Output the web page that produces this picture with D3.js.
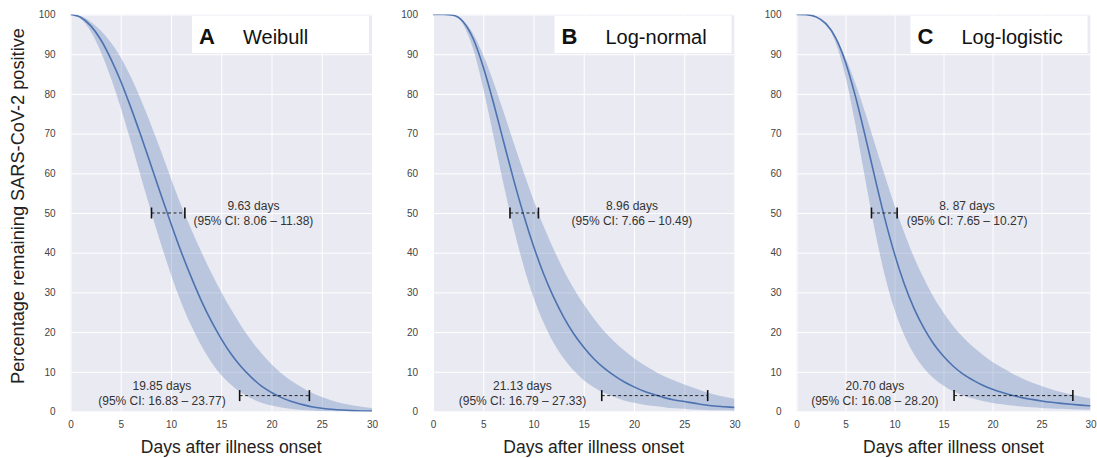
<!DOCTYPE html>
<html>
<head>
<meta charset="utf-8">
<script src="https://cdn.jsdelivr.net/npm/d3@7"></script>
<style>
  body { margin: 0; background: #fff; }
  svg { display: block; font-family: "Liberation Sans", Arial, sans-serif; }
</style>
</head>
<body>
<script>
// days after onset at which the curves were read
var days = [0, 1, 2, 3, 4, 5, 6, 7, 8, 9, 10, 11, 12, 13, 14, 15, 16, 17, 18, 19, 20, 21, 22, 23, 24, 25, 26, 27, 28, 29, 30];

// A - Weibull
var weibullMid  = [100, 99.3, 97.2, 93.7, 88.9, 83.2, 76.6, 69.5, 62.1, 54.6, 47.3, 40.3, 33.9, 28.0, 22.8, 18.3, 14.4, 11.2, 8.6, 6.4, 4.8, 3.5, 2.5, 1.8, 1.2, 0.8, 0.55, 0.36, 0.23, 0.14, 0.09];
var weibullLow  = [100, 98.9, 95.8, 90.7, 84.2, 76.5, 68.0, 59.2, 50.5, 42.2, 34.5, 27.6, 21.7, 16.7, 12.5, 9.2, 6.7, 4.7, 3.3, 2.2, 1.5, 1.0, 0.6, 0.4, 0.23, 0.14, 0.09, 0.05, 0.03, 0.02, 0.01];
var weibullHigh = [100, 99.6, 98.2, 96.0, 93.0, 89.2, 84.3, 78.6, 72.3, 65.6, 58.7, 52.0, 46.0, 40.3, 35.0, 30.1, 25.6, 21.5, 17.8, 14.7, 11.9, 9.6, 7.7, 6.1, 4.7, 3.65, 2.8, 2.1, 1.6, 1.2, 0.9];

// B - Log-normal
var lognormMid  = [100, 100, 99.8, 98.2, 93.9, 86.8, 77.9, 68.2, 58.6, 49.7, 41.7, 34.7, 28.8, 23.8, 19.6, 16.2, 13.3, 11.0, 9.1, 7.5, 6.2, 5.1, 4.3, 3.5, 2.9, 2.5, 2.1, 1.7, 1.4, 1.2, 1.0];
var lognormLow  = [100, 100, 99.8, 97.5, 91.3, 81.4, 69.6, 57.5, 46.4, 36.8, 28.8, 22.4, 17.3, 13.4, 10.3, 7.9, 6.1, 4.7, 3.7, 2.8, 2.2, 1.7, 1.4, 1.1, 0.8, 0.7, 0.5, 0.4, 0.3, 0.3, 0.2];
var lognormHigh = [100, 100, 99.8, 98.4, 95.1, 89.8, 83.1, 75.6, 67.9, 60.4, 53.3, 46.7, 40.9, 35.6, 31.0, 27.0, 23.4, 20.3, 17.7, 15.4, 13.4, 11.7, 10.2, 8.9, 7.8, 6.8, 5.9, 5.0, 4.3, 3.7, 3.2];

// C - Log-logistic
var loglogMid  = [100, 99.95, 99.4, 97.7, 94.1, 88.0, 79.5, 69.5, 58.9, 48.7, 39.7, 32.1, 25.9, 21.0, 17.0, 13.9, 11.4, 9.4, 7.9, 6.6, 5.6, 4.8, 4.1, 3.5, 3.05, 2.66, 2.33, 2.05, 1.81, 1.6, 1.43];
var loglogLow  = [100, 99.97, 99.5, 97.6, 92.9, 84.4, 72.4, 58.7, 45.6, 34.4, 25.7, 19.2, 14.4, 10.9, 8.35, 6.5, 5.1, 4.05, 3.26, 2.65, 2.17, 1.8, 1.5, 1.26, 1.06, 0.91, 0.78, 0.67, 0.58, 0.51, 0.44];
var loglogHigh = [100, 99.9, 99.2, 97.3, 94.0, 89.1, 82.7, 75.4, 67.4, 59.5, 51.9, 45.0, 38.8, 33.5, 28.8, 24.9, 21.5, 18.7, 16.3, 14.3, 12.5, 11.0, 9.6, 8.4, 7.3, 6.4, 5.6, 4.9, 4.3, 3.8, 3.3];

var panelLetters = ["A", "B", "C"];
var modelNames = ["Weibull", "Log-normal", "Log-logistic"];

// median duration and 95% CI, then the 95th-percentile duration and CI
var medianText = ["9.63 days", "8.96 days", "8. 87 days"];
var medianCI = [[8.06, 11.38], [7.66, 10.49], [7.65, 10.27]];
var medianCIText = ["(95% CI: 8.06 \u2013 11.38)", "(95% CI: 7.66 \u2013 10.49)", "(95% CI: 7.65 \u2013 10.27)"];
var tailText = ["19.85 days", "21.13 days", "20.70 days"];
var tailCI = [[16.83, 23.77], [16.79, 27.33], [16.08, 28.20]];
var tailCIText = ["(95% CI: 16.83 \u2013 23.77)", "(95% CI: 16.79 \u2013 27.33)", "(95% CI: 16.08 \u2013 28.20)"];

var xTicks = [0, 5, 10, 15, 20, 25, 30];
var yTicks = [0, 10, 20, 30, 40, 50, 60, 70, 80, 90, 100];

var series = [
  [weibullMid, weibullLow, weibullHigh],
  [lognormMid, lognormLow, lognormHigh],
  [loglogMid, loglogLow, loglogHigh]
];

// layout
var W = 1097, H = 458;
var plotLefts = [70.5, 433, 796.5];
var plotWidths = [301.5, 301.5, 294];
var plotTop = 14.5, plotBottom = 411.5;
var medianLabelX = [18.2, 19.8, 17.4];   // in days
var tailLabelX = [9.1, 8.9, 8.0];
var medianLevel = 50, tailLevel = 4;
var blue = "#4c72b0";

var svg = d3.select("body").append("svg").attr("width", W).attr("height", H);

panelLetters.forEach(function (letter, i) {
  var plotW = plotWidths[i];
  var x = d3.scaleLinear().domain([0, 30]).range([plotLefts[i], plotLefts[i] + plotW]);
  var y = d3.scaleLinear().domain([0, 100]).range([plotBottom, plotTop]);
  var g = svg.append("g");

  var clipId = "clip" + i;
  svg.append("clipPath").attr("id", clipId).append("rect")
    .attr("x", x(0)).attr("y", y(100)).attr("width", plotW).attr("height", plotBottom - plotTop);

  g.append("rect")
    .attr("x", x(0)).attr("y", y(100))
    .attr("width", plotW).attr("height", plotBottom - plotTop)
    .attr("fill", "#eaeaf2");

  // grid + tick labels
  var xAxis = g.append("g")
    .attr("transform", "translate(0," + plotBottom + ")")
    .call(d3.axisBottom(x).tickValues(xTicks).tickSize(-(plotBottom - plotTop)).tickPadding(9));
  var yAxis = g.append("g")
    .attr("transform", "translate(" + x(0) + ",0)")
    .call(d3.axisLeft(y).tickValues(yTicks).tickSize(-plotW).tickPadding(15));
  [xAxis, yAxis].forEach(function (ax) {
    ax.select(".domain").remove();
    ax.selectAll(".tick line").attr("stroke", "#fff").attr("stroke-width", 1);
    ax.selectAll(".tick text").attr("fill", "#444").style("font-size", "10px")
      .style("font-family", "'Liberation Sans', Arial, sans-serif");
  });

  var pts = days.map(function (d, k) {
    return { t: d, mid: series[i][0][k], lo: series[i][1][k], hi: series[i][2][k] };
  });

  var area = d3.area()
    .x(function (d) { return x(d.t); })
    .y0(function (d) { return y(d.lo); })
    .y1(function (d) { return y(d.hi); })
    .curve(d3.curveMonotoneX);
  var line = d3.line()
    .x(function (d) { return x(d.t); })
    .y(function (d) { return y(d.mid); })
    .curve(d3.curveMonotoneX);

  var pg = g.append("g").attr("clip-path", "url(#" + clipId + ")");
  pg.append("path").datum(pts).attr("d", area).attr("fill", blue).attr("fill-opacity", 0.3);
  pg.append("path").datum(pts).attr("d", line).attr("fill", "none")
    .attr("stroke", blue).attr("stroke-width", 1.6);

  // CI markers
  function ciMarker(ci, level) {
    var yy = y(level);
    g.append("line")
      .attr("x1", x(ci[0])).attr("x2", x(ci[1])).attr("y1", yy).attr("y2", yy)
      .attr("stroke", "#222").attr("stroke-width", 1).attr("stroke-dasharray", "3,2.5");
    ci.forEach(function (v) {
      g.append("line")
        .attr("x1", x(v)).attr("x2", x(v)).attr("y1", yy - 5.5).attr("y2", yy + 5.5)
        .attr("stroke", "#111").attr("stroke-width", 1.6);
    });
  }
  function label(cx, cy, l1, l2) {
    var t = g.append("text").attr("text-anchor", "middle").attr("fill", "#333")
      .style("font-size", "12px");
    t.append("tspan").attr("x", cx).attr("y", cy - 3).text(l1);
    t.append("tspan").attr("x", cx).attr("y", cy + 12).text(l2);
  }
  ciMarker(medianCI[i], medianLevel);
  ciMarker(tailCI[i], tailLevel);
  label(x(medianLabelX[i]), y(medianLevel), medianText[i], medianCIText[i]);
  label(x(tailLabelX[i]), y(tailLevel) - 3, tailText[i], tailCIText[i]);

  // title box
  var boxW = 177, boxRight = Math.min(x(30) - 3, 1093);
  g.append("rect").attr("x", boxRight - boxW).attr("y", 16).attr("width", boxW).attr("height", 37)
    .attr("fill", "#fff");
  g.append("text").attr("x", boxRight - boxW + 7).attr("y", 43.5)
    .attr("fill", "#111").style("font-size", "22px").style("font-weight", "bold").text(letter);
  g.append("text").attr("x", boxRight - boxW + 51).attr("y", 43.5)
    .attr("fill", "#111").style("font-size", "20px").text(modelNames[i]);

  // x label
  g.append("text").attr("x", (x(0) + x(30)) / 2 + 10).attr("y", 453)
    .attr("text-anchor", "middle").attr("fill", "#222").style("font-size", "17.5px")
    .text("Days after illness onset");
});

svg.append("text")
  .attr("transform", "translate(18,206) rotate(-90)")
  .attr("text-anchor", "middle").attr("dy", "0.35em")
  .attr("fill", "#222").style("font-size", "18.2px")
  .text("Percentage remaining SARS-CoV-2 positive");
</script>
</body>
</html>
